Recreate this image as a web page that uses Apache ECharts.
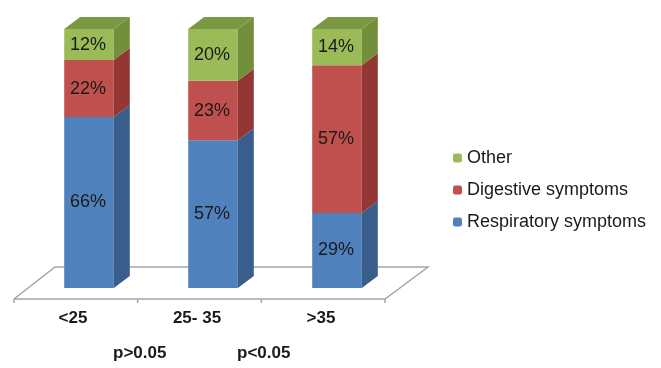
<!DOCTYPE html>
<html>
<head>
<meta charset="utf-8">
<script src="https://cdn.jsdelivr.net/npm/echarts@6/dist/echarts.min.js"></script>
<style>
  html, body { margin: 0; padding: 0; background: #fff; }
  #chart { width: 661px; height: 368px; }
</style>
</head>
<body>
<div id="chart"></div>
<script>
var categories = ['<25', '25- 35', '>35'];
var respiratory = [66, 57, 29];
var digestive = [22, 23, 57];
var other = [12, 20, 14];
var pValues = ['p>0.05', 'p<0.05'];

var chart = echarts.init(document.getElementById('chart'));

// front / side / top colours for each stack part
var colors = {
  resp: ['#4F81BD', '#395E8C', '#4472A8'],
  dig: ['#C0504D', '#933634', '#A94542'],
  oth: ['#9BBB59', '#728F3C', '#7A9844']
};

var DX = 16, DY = -12;   // depth of the bars
var stacks = [respiratory, digestive, other];

function barItem(stackIndex, col, isTop) {
  return function (params, api) {
    var i = api.value(0);
    var base = 0;
    for (var k = 0; k < stackIndex; k++) base += stacks[k][i];
    var v = api.value(1);
    var p0 = api.coord([i, base]);
    var p1 = api.coord([i, base + v]);
    var w = api.size([1, 0])[0] * 0.4;
    var x0 = p0[0] - w / 2, x1 = p0[0] + w / 2;
    var children = [
      { type: 'rect', shape: { x: x0, y: p1[1], width: w, height: p0[1] - p1[1] },
        style: { fill: col[0] } },
      { type: 'polygon', shape: { points: [[x1, p0[1]], [x1 + DX, p0[1] + DY], [x1 + DX, p1[1] + DY], [x1, p1[1]]] },
        style: { fill: col[1] } },
      { type: 'text', x: p0[0] - 1, y: (p0[1] + p1[1]) / 2,
        style: { text: v + '%', align: 'center', verticalAlign: 'middle',
          fontSize: 18, fontFamily: 'Liberation Sans, Arial', fill: '#1a1a1a' } }
    ];
    if (isTop) {
      children.push({ type: 'polygon',
        shape: { points: [[x0, p1[1]], [x0 + DX, p1[1] + DY], [x1 + DX, p1[1] + DY], [x1, p1[1]]] },
        style: { fill: col[2] } });
    }
    return { type: 'group', children: children };
  };
}

function seriesData(arr) {
  return arr.map(function (v, i) { return [i, v]; });
}

var option = {
  animation: false,
  grid: { left: 27, top: 29, width: 372, height: 259 },
  xAxis: {
    type: 'category',
    data: categories,
    axisLine: { show: false },
    axisTick: { show: false },
    axisLabel: {
      margin: 22,
      padding: [0, 32, 0, 0],
      fontSize: 17,
      fontWeight: 'bold',
      fontFamily: 'Liberation Sans, Arial',
      color: '#1a1a1a'
    }
  },
  yAxis: { type: 'value', min: 0, max: 100, show: false },
  legend: {
    orient: 'vertical',
    left: 448,
    top: 144,
    itemWidth: 9,
    itemHeight: 9,
    itemGap: 14,
    data: ['Other', 'Digestive symptoms', 'Respiratory symptoms'],
    textStyle: { fontSize: 18, fontFamily: 'Liberation Sans, Arial', color: '#1a1a1a' }
  },
  graphic: [
    { type: 'text', left: 113, top: 345,
      style: { text: pValues[0], fontSize: 17, fontWeight: 'bold', fontFamily: 'Liberation Sans, Arial', fill: '#1a1a1a' } },
    { type: 'text', left: 237, top: 345,
      style: { text: pValues[1], fontSize: 17, fontWeight: 'bold', fontFamily: 'Liberation Sans, Arial', fill: '#1a1a1a' } }
  ],
  series: [
    {
      // floor of the 3D plot
      type: 'custom',
      silent: true,
      z: 1,
      data: [[0]],
      renderItem: function (params, api) {
        var a = api.coord([0, 0]), b = api.coord([2, 0]);
        var step = api.size([1, 0])[0];
        var l = a[0] - step / 2, r = b[0] + step / 2, y = a[1];
        var fl = [l - 13, y + 11], fr = [r - 14, y + 11];
        var bl = [l + 28, y - 21], br = [r + 29, y - 21];
        var kids = [{ type: 'polyline', shape: { points: [fl, bl, br, fr, fl] },
          style: { stroke: '#A6A6A6', lineWidth: 1.5, fill: null } }];
        for (var t = 0; t <= 3; t++) {
          var tx = fl[0] + (fr[0] - fl[0]) * t / 3;
          kids.push({ type: 'line', shape: { x1: tx, y1: fl[1], x2: tx, y2: fl[1] + 4 },
            style: { stroke: '#A6A6A6', lineWidth: 1.5 } });
        }
        return { type: 'group', children: kids };
      }
    },
    { name: 'Respiratory symptoms', type: 'custom', z: 2, itemStyle: { color: '#4F81BD' },
      data: seriesData(respiratory), renderItem: barItem(0, colors.resp, false) },
    { name: 'Digestive symptoms', type: 'custom', z: 2, itemStyle: { color: '#C0504D' },
      data: seriesData(digestive), renderItem: barItem(1, colors.dig, false) },
    { name: 'Other', type: 'custom', z: 2, itemStyle: { color: '#9BBB59' },
      data: seriesData(other), renderItem: barItem(2, colors.oth, true) }
  ]
};

chart.setOption(option);
</script>
</body>
</html>
